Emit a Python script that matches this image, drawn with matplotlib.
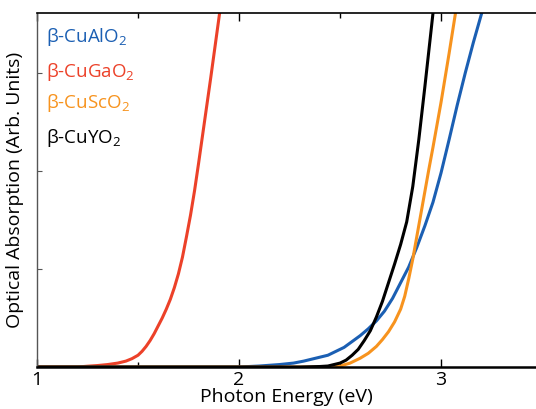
import matplotlib
matplotlib.use("Agg")
import matplotlib.pyplot as plt
from matplotlib.ticker import FixedLocator

plt.rcParams["font.family"] = ["Open Sans", "DejaVu Sans"]
plt.rcParams["mathtext.fontset"] = "custom"
plt.rcParams["mathtext.rm"] = "Open Sans"
plt.rcParams["mathtext.default"] = "regular"

# photon energy (eV) vs absorption (arb. units)
gao2_e = [1.0, 1.20, 1.25, 1.30, 1.35, 1.40, 1.44, 1.47, 1.50, 1.52, 1.54,
          1.56, 1.58, 1.60, 1.62, 1.64, 1.66, 1.68, 1.70, 1.72, 1.74, 1.76,
          1.78, 1.80, 1.82, 1.84, 1.86, 1.88, 1.90, 1.92]
gao2_a = [0.0, 0.0, 0.008, 0.015, 0.025, 0.04, 0.06, 0.085, 0.12, 0.16, 0.21,
          0.27, 0.34, 0.42, 0.50, 0.59, 0.69, 0.81, 0.95, 1.12, 1.33, 1.55,
          1.80, 2.08, 2.37, 2.66, 2.95, 3.25, 3.55, 3.85]

alo2_e = [1.0, 2.00, 2.10, 2.20, 2.27, 2.32, 2.36, 2.40, 2.44, 2.48, 2.52,
          2.56, 2.60, 2.64, 2.68, 2.72, 2.76, 2.80, 2.84, 2.88, 2.92, 2.96,
          3.00, 3.04, 3.08, 3.12, 3.16, 3.20, 3.24]
alo2_a = [0.0, 0.0, 0.01, 0.025, 0.04, 0.06, 0.08, 0.10, 0.12, 0.16, 0.20,
          0.26, 0.32, 0.39, 0.47, 0.57, 0.70, 0.86, 1.02, 1.22, 1.44, 1.68,
          1.98, 2.32, 2.67, 3.00, 3.31, 3.60, 3.88]

sco2_e = [1.0, 2.45, 2.50, 2.55, 2.60, 2.64, 2.68, 2.71, 2.74, 2.77, 2.80,
          2.82, 2.84, 2.86, 2.88, 2.90, 2.92, 2.94, 2.96, 2.98, 3.00, 3.02,
          3.04, 3.06, 3.08]
sco2_a = [0.0, 0.0, 0.01, 0.04, 0.09, 0.14, 0.21, 0.28, 0.36, 0.46, 0.59,
          0.72, 0.90, 1.10, 1.33, 1.56, 1.79, 2.02, 2.24, 2.47, 2.70, 2.95,
          3.20, 3.46, 3.72]

yo2_e = [1.0, 2.30, 2.40, 2.44, 2.48, 2.50, 2.53, 2.56, 2.59, 2.62, 2.65,
         2.68, 2.71, 2.74, 2.77, 2.80, 2.83, 2.86, 2.89, 2.92, 2.95, 2.98]
yo2_a = [0.0, 0.0, 0.005, 0.01, 0.03, 0.04, 0.07, 0.12, 0.18, 0.27, 0.37,
         0.51, 0.67, 0.86, 1.05, 1.25, 1.48, 1.84, 2.32, 2.86, 3.42, 3.98]

labels = ["β-CuAlO$_2$", "β-CuGaO$_2$", "β-CuScO$_2$", "β-CuYO$_2$"]
colors = ["#1b5fb3", "#ec4129", "#f7931e", "black"]

W, H = 536, 409
fig = plt.figure(figsize=(W / 100, H / 100), dpi=100)
ax = fig.add_axes([37 / W, 1 - 367 / H, 499 / W, 354 / H])

ax.plot(gao2_e, gao2_a, color=colors[1], lw=2.2)
ax.plot(alo2_e, alo2_a, color=colors[0], lw=2.2)
ax.plot(sco2_e, sco2_a, color=colors[2], lw=2.2)
ax.plot(yo2_e, yo2_a, color=colors[3], lw=2.2)

ax.set_xlim(1, 3.47)
ax.set_ylim(0, 3.61)

ax.xaxis.set_major_locator(FixedLocator([1, 2, 3]))
ax.xaxis.set_minor_locator(FixedLocator([1.5, 2.5]))
ax.yaxis.set_major_locator(FixedLocator([1, 2, 3]))
ax.set_yticklabels([])
ax.tick_params(axis="x", which="major", direction="in", length=6, width=1,
               top=True, labelsize=14, pad=3, colors="black")
ax.tick_params(axis="x", which="minor", direction="in", length=3.5, width=1,
               top=True)
ax.tick_params(axis="y", direction="in", length=3.5, width=0.8,
               color="#555555")

ax.spines["right"].set_visible(False)
ax.spines["left"].set_color("#555555")
ax.spines["left"].set_linewidth(1.0)
ax.spines["bottom"].set_linewidth(1.8)
ax.spines["top"].set_linewidth(1.2)

ax.set_xlabel("Photon Energy (eV)", fontsize=14, labelpad=-1)
ax.set_ylabel("Optical Absorption (Arb. Units)", fontsize=14, labelpad=6)

baselines = [42, 77, 108, 143]
for lab, col, yb in zip(labels, colors, baselines):
    fig.text(46 / W, 1 - yb / H, lab, color=col, fontsize=13.5, va="baseline",
             ha="left")

fig.savefig("out.png", dpi=100)
